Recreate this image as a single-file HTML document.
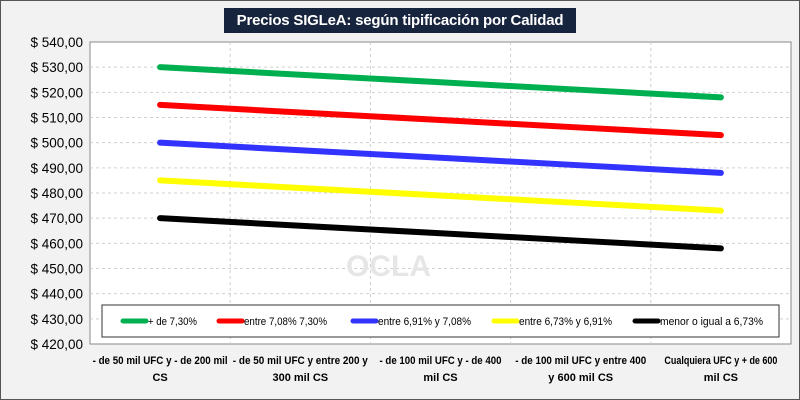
<!DOCTYPE html>
<html><head><meta charset="utf-8"><style>
body{margin:0;background:#fff}
#wrap{position:relative;width:798px;height:398px;border:1px solid #555;background:#f2f2f2;font-family:"Liberation Sans",sans-serif;overflow:hidden}
#title{position:absolute;left:223px;top:7px;width:352px;height:25px;background:#17243d;color:#fff;font-weight:bold;font-size:15px;line-height:25px;text-align:center;white-space:nowrap;letter-spacing:-0.2px}
svg{position:absolute;left:0;top:0}
</style></head><body>
<div id="wrap">
<div id="title">Precios SIGLeA: según tipificación por Calidad</div>
<svg id="chart" width="800" height="400"></svg>
</div>
<script>
const categories=[["- de 50 mil UFC y - de 200 mil","CS"],["- de 50 mil UFC y entre  200 y","300 mil CS"],["- de 100 mil UFC y - de 400","mil CS"],["- de 100 mil UFC y entre  400","y 600 mil CS"],["Cualquiera UFC y + de 600","mil CS"]];
const seriesNames=["+ de 7,30%","entre 7,08% 7,30%","entre 6,91% y 7,08%","entre 6,73% y 6,91%","menor o igual a 6,73%"];
const seriesColors=["#00b050","#ff0000","#3333ff","#ffff00","#000000"];
const green=[530,527,524,521,518];
const red=[515,512,509,506,503];
const blue=[500,497,494,491,488];
const yellow=[485,482,479,476,473];
const black=[470,467,464,461,458];
const seriesValues=[green,red,blue,yellow,black];
const yTicks=[420,430,440,450,460,470,480,490,500,510,520,530,540];

const svg=document.getElementById('chart');const NS="http://www.w3.org/2000/svg";
const L=89,R=790,T=41,B=343,yMin=420,yMax=540;
const xs=i=>L+(R-L)/categories.length*(i+0.5);
const ys=v=>B-(v-yMin)/(yMax-yMin)*(B-T);
function mk(t,a,p){const e=document.createElementNS(NS,t);for(const k in a)e.setAttribute(k,a[k]);(p||svg).appendChild(e);return e;}
const plot=mk('rect',{x:L,y:T,width:R-L,height:B-T,fill:'#fff',stroke:'#888'});


yTicks.forEach(v=>{
 if(v>yMin&&v<yMax){const g=mk('line',{x1:L,x2:R,y1:ys(v),y2:ys(v),stroke:'#d0d0d0','stroke-dasharray':'3,3'});
 
 }
 const t=mk('text',{x:82,y:ys(v)+5,'text-anchor':'end','font-size':'13.5',fill:'#000'});
 t.textContent='$ '+v.toFixed(2).replace('.',',');
 
 
});
for(let i=1;i<categories.length;i++){const x=L+(R-L)/categories.length*i;
 const g=mk('line',{x1:x,x2:x,y1:T,y2:B,stroke:'#d0d0d0','stroke-dasharray':'3,3'});
 
 }
categories.forEach((c,i)=>{c.forEach((ln,j)=>{
 const a={x:xs(i),y:363+j*17,'text-anchor':'middle','font-size':'11','font-weight':'bold',fill:'#000'};
 if(ln.length>12){a.textLength=(ln.length*4.5).toFixed(0);a.lengthAdjust='spacingAndGlyphs';}
 const t=mk('text',a);
 t.textContent=ln;
 
 });});
const wm=mk('text',{x:345,y:275,'font-size':'30','font-weight':'bold',fill:'#e6e6e6'});wm.textContent='OCLA';


seriesValues.forEach((vals,s)=>{
 const p=mk('polyline',{points:vals.map((v,i)=>xs(i)+','+ys(v)).join(' '),fill:'none',stroke:seriesColors[s],'stroke-width':6,'stroke-linecap':'round'});
 
 
});
const lg=mk('rect',{x:101,y:304,width:677,height:32,fill:'#fff',stroke:'#333'});


const lx=[122,218,352,493,634];
seriesNames.forEach((n,s)=>{
 const l=mk('line',{x1:lx[s],x2:lx[s]+23,y1:320,y2:320,stroke:seriesColors[s],'stroke-width':5,'stroke-linecap':'round'});
 
 
 const t=mk('text',{x:lx[s]+25,y:324,'font-size':'11',fill:'#000',textLength:(n.length*4.9).toFixed(0),lengthAdjust:'spacingAndGlyphs'});t.textContent=n;
 
 
});
</script>
</body></html>
